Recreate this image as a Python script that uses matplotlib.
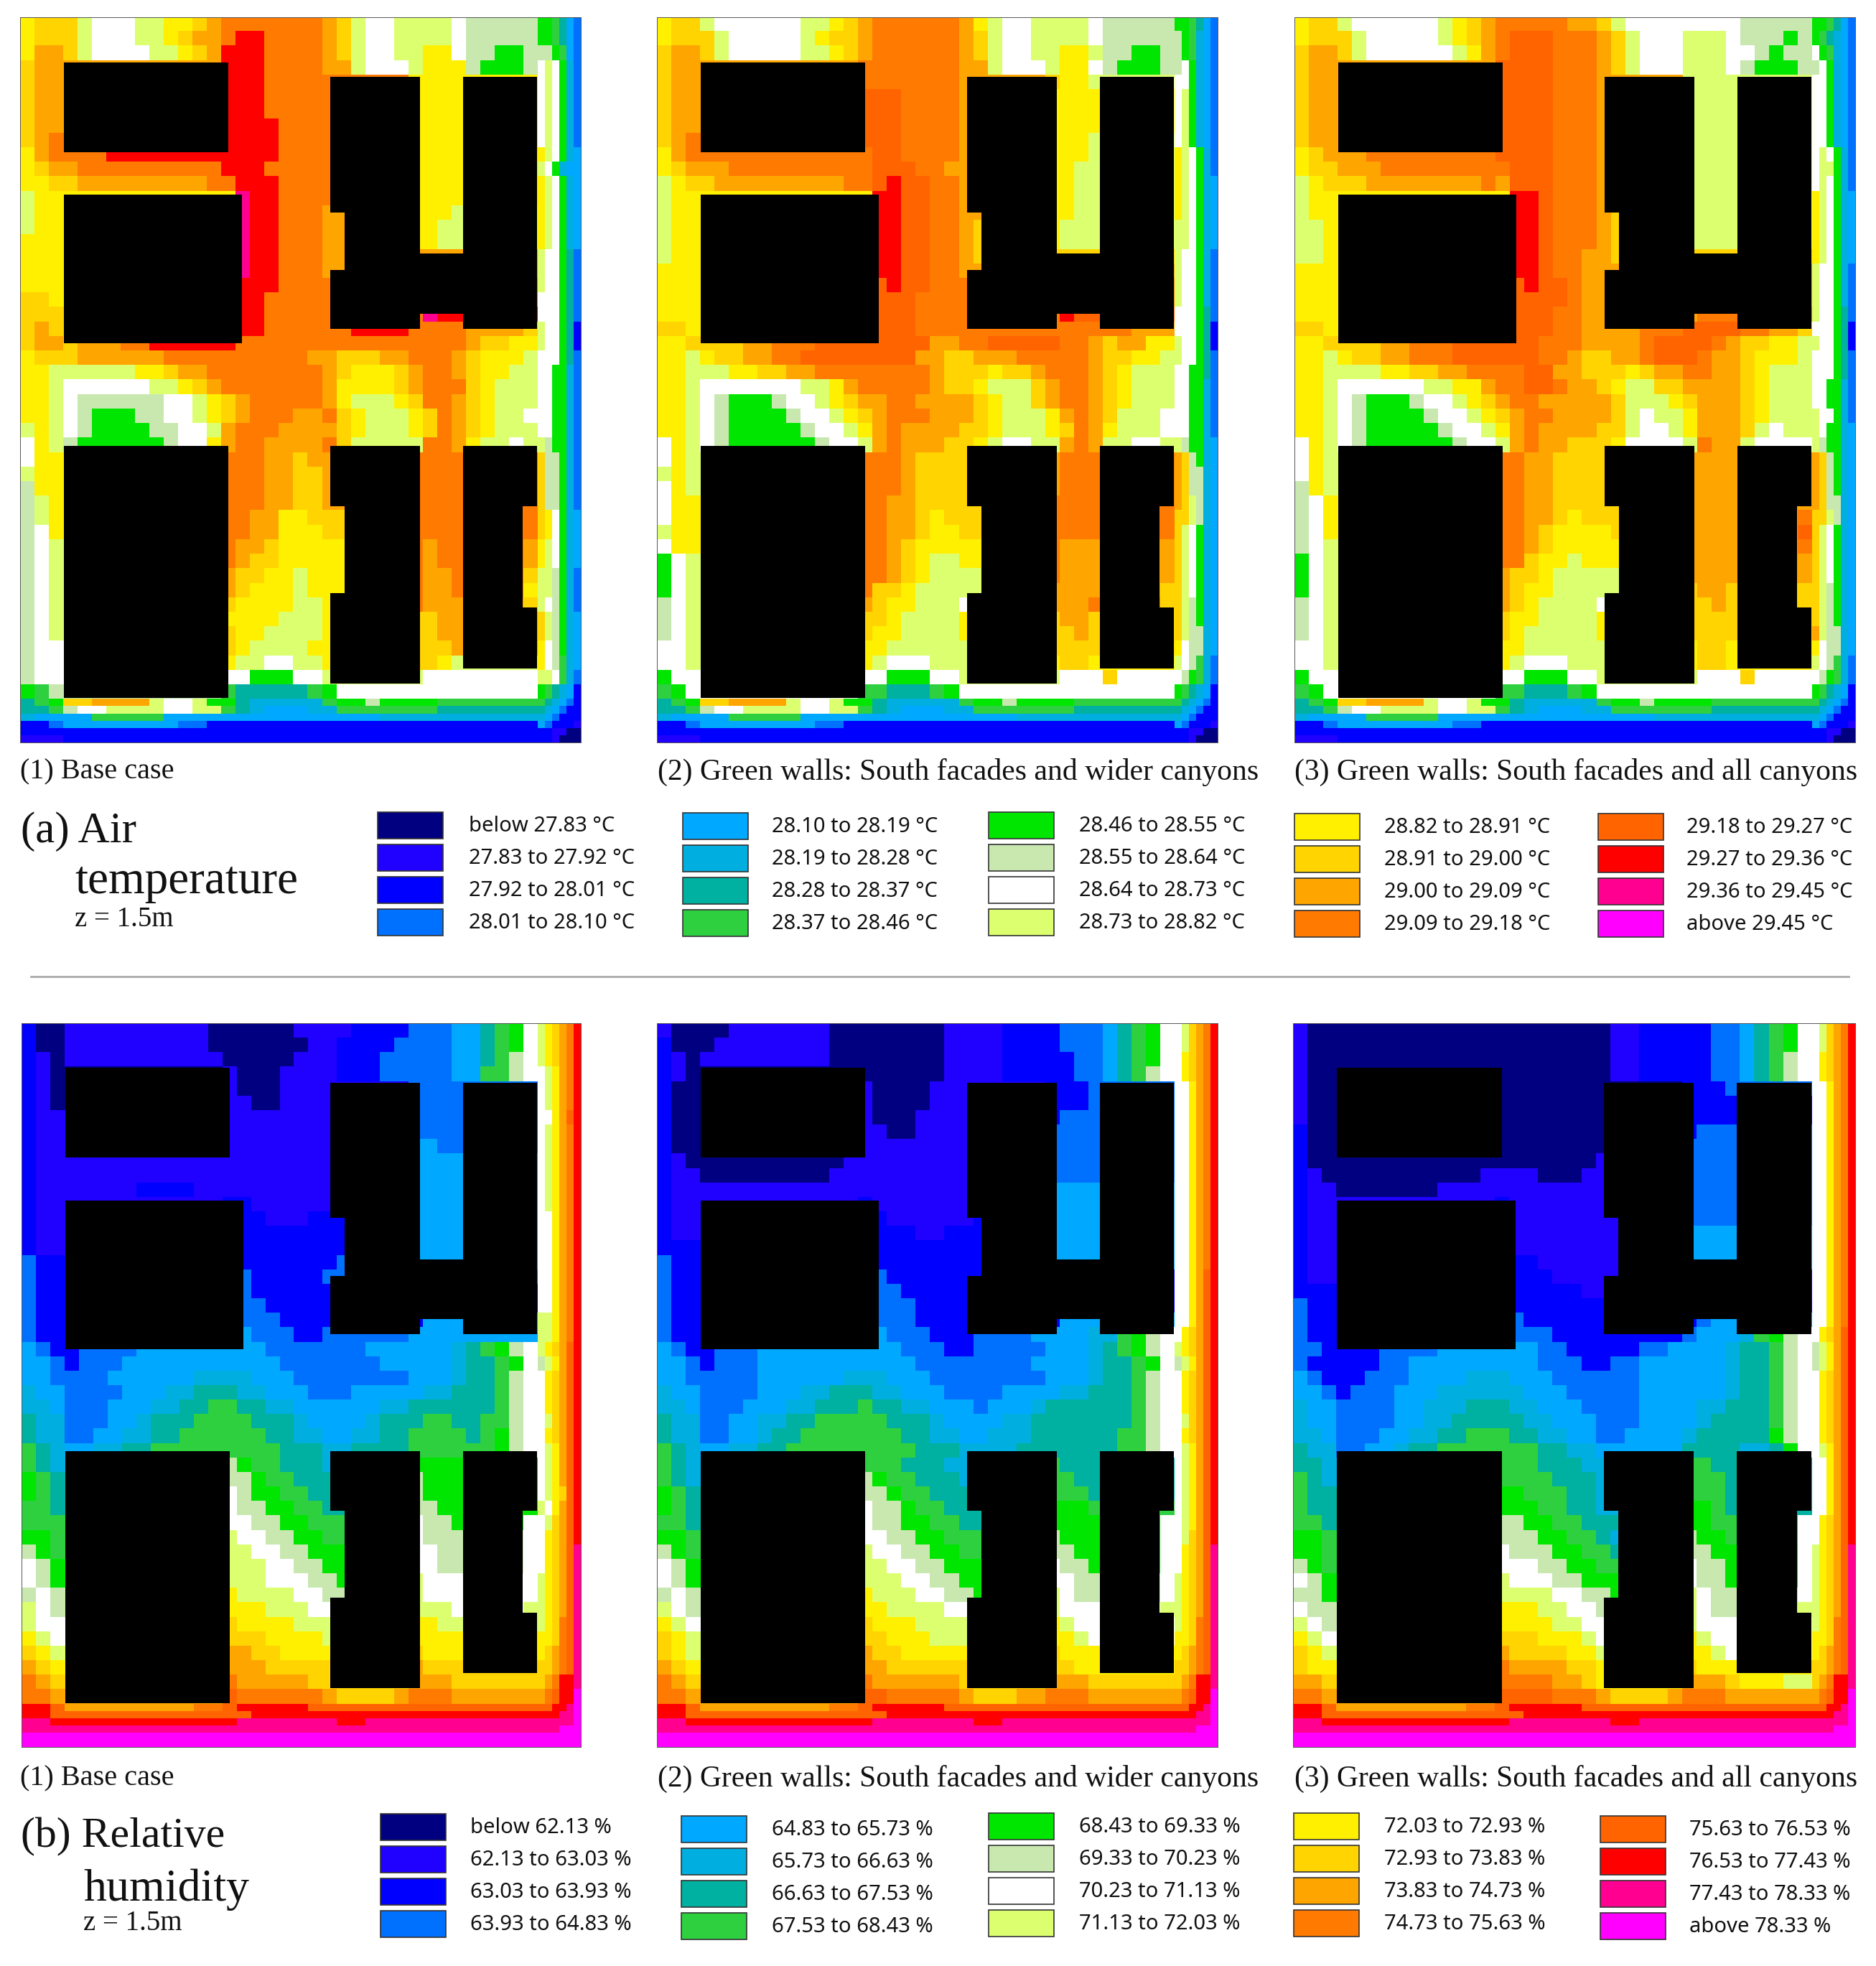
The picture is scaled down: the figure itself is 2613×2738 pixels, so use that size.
import numpy as np
import matplotlib
matplotlib.use('Agg')
import matplotlib.pyplot as plt
from matplotlib.colors import ListedColormap
from matplotlib.patches import Rectangle

# class colours, lowest to highest (a..t)
class_colors = ['#000080', '#2000ff', '#0000ff', '#0070ff', '#00a8ff', '#00aee0', '#00b0a0',
                '#2ed040', '#00e600', '#c8e8b0', '#ffffff', '#dcff70', '#fff000', '#ffd400',
                '#ffa500', '#ff7a00', '#ff6400', '#ff0000', '#ff0090', '#ff00ff']

air_labels = ['below 27.83 °C', '27.83 to 27.92 °C', '27.92 to 28.01 °C', '28.01 to 28.10 °C',
              '28.10 to 28.19 °C', '28.19 to 28.28 °C', '28.28 to 28.37 °C', '28.37 to 28.46 °C',
              '28.46 to 28.55 °C', '28.55 to 28.64 °C', '28.64 to 28.73 °C', '28.73 to 28.82 °C',
              '28.82 to 28.91 °C', '28.91 to 29.00 °C', '29.00 to 29.09 °C', '29.09 to 29.18 °C',
              '29.18 to 29.27 °C', '29.27 to 29.36 °C', '29.36 to 29.45 °C', 'above 29.45 °C']
rh_labels = ['below 62.13 %', '62.13 to 63.03 %', '63.03 to 63.93 %', '63.93 to 64.83 %',
             '64.83 to 65.73 %', '65.73 to 66.63 %', '66.63 to 67.53 %', '67.53 to 68.43 %',
             '68.43 to 69.33 %', '69.33 to 70.23 %', '70.23 to 71.13 %', '71.13 to 72.03 %',
             '72.03 to 72.93 %', '72.93 to 73.83 %', '73.83 to 74.73 %', '74.73 to 75.63 %',
             '75.63 to 76.53 %', '76.53 to 77.43 %', '77.43 to 78.33 %', 'above 78.33 %']
captions = ['(1) Base case', '(2) Green walls: South facades and wider canyons',
            '(3) Green walls: South facades and all canyons']

# building footprints in model cells: x0, x1, y0, y1
buildings = [(6.1, 29.0, 6.2, 18.6), (6.1, 30.9, 24.5, 45.0), (6.1, 29.0, 59.1, 93.9),
             (43.1, 45.1, 8.2, 26.9), (43.1, 45.1, 34.9, 43.0), (45.1, 55.6, 8.2, 43.0),
             (55.6, 61.6, 32.6, 40.9), (61.6, 71.9, 8.2, 43.0),
             (43.1, 45.1, 59.1, 67.4), (43.1, 45.1, 79.4, 91.9), (45.1, 55.6, 59.1, 91.9),
             (61.6, 69.9, 59.1, 89.8), (69.9, 71.9, 59.1, 67.4), (69.9, 71.9, 81.4, 89.8)]

# each map: one letter per cell, # = under a building. last 6 cols / last 6 rows are half size
air_edge = [
    "ghi nnoooolkkli igfffffh iijii iihh hhhhh hgfedc",
    "ggh jkkllllkkll hgfeeeff hhhhh hhgg ggggg gfedcc",
    "fee eehhhhheeee eeeeeeee eeeff ffff fffff fedccc",
    "ccd eeeeeeeeddc cccccccc ccccc cccc ccccc edcccb",
    "ccc ccccccccccc cccccccc ccccc cccc ccccc ccbbaa",
    "bbb ccccccccccc cccccccc ccccc cccc ccccc ccbaaa",
]
rh_edge = [
    "rrq ooooooooopp qrrrrrqq qqqqq qqqq qqqqq qqrrst",
    "rrq qqqqqqqqqqq qqrrrrrr rrrrr rrrr rrrrr rrrsst",
    "ssr rrrrrrrrrrr rsssssss rrsss ssss sssss ssssst",
    "sss sssssssssss ssssssss sssss ssss sssss sssttt",
    "ttt ttttttttttt tttttttt ttttt tttt ttttt tttttt",
    "ttt ttttttttttt tttttttt ttttt tttt ttttt tttttt",
]

air_1 = [
    "mnn nlkkkllmmno pppppppo nlkkl lllk jjjjj iihged",
    "mnn nlkkkllmnoo prrppppo nlkkl lllk jjjjj iihged",
    "moo nlkkkkllmno rrrppppo nlkkl lmmk jjiij jjihed",
    "noo ########### rrrppppo olkkk lmmm jiiij klkifd",
    "noo ########### rrrppppp ##### mmmm ##### klkifd",
    "noo ########### rrrppppp ##### mmmm ##### klkifd",
    "noo ########### rrrppppp ##### mmmm ##### klkifd",
    "noo ########### rrrrpppp ##### mmmm ##### klkifd",
    "nop ########### rrrrpppp ##### mmmm ##### klkifd",
    "mop ppprrrrrrrr rrrrpppp ##### mmmm ##### mlkife",
    "mno oppppppppp p"[:14] + " prrrpppp ##### mmmm ##### mlkife",
    "mmn nooooooooop prrrpppp ##### mmmm ##### mlkife",
    "lmm ########### #srrpppp ##### mmmm ##### mlkife",
    "lmm ########### #srrpppo o#### mmml ##### mlkife",
    "lmm ########### #srrpppo o#### mmll ##### mlkife",
    "mmm ########### #srrpppo o#### mmll ##### mlkife",
    "mmm ########### #srrpppo o#### #### ##### lkkigd",
    "mmm ########### #srrpppo ##### #### ##### lkkigd",
    "mmm ########### #rrrpppp ##### #### ##### lkkigd",
    "nnm ########### #rrppppp ##### #### ##### kkkigd",
    "nnn ########### #rrppppp ##### #srr ##### kkkigd",
    "non ########### #rrppppp prrrr pppp oooon lkkigc",
    "noo nooopprrrrr rppppppp ppppp pppp onnmm lkkigc",
    "mnn noooooopppp ppppppoo nnnoo pppo nmmml kkkigd",
    "mml lllllmmnoop pppppppo nmmmn oppo nmmll kkiifd",
    "mml kkkkkkllmno pppppppo mmmmn oppp nmlll kkiifd",
    "mml kjjjjjjkklm nopppppo mlllm nppo nmlll kkiifd",
    "mml kjiiijjkklm nopppoop nmlll mnpo nmllk kkiifd",
    "lml kjiiiijjkkl opppoooo nmlll mnpo nmlll kkiifd",
    "kml jiiiiiijkkm oppoooop nllll lppo mllkl ljiifd",
    "kmm ########### pppoonoo ##### pppp ##### njjifd",
    "lmm ########### pppoonno ##### pppp ##### njjifd",
    "jmm ########### pppoonno ##### pppp ##### njjifd",
    "jlm ########### pppoonno ##### pppp ##### njjifd",
    "jlm ########### ppoommnn n#### pppp ####p nmkife",
    "jkm ########### ppoommmn n#### pppp ####p nmkife",
    "jkl ########### poonmmmm m#### popp ####o mlkife",
    "jkl ########### ponnmmmm m#### popp ####o mlkife",
    "jkl ########### onnmmlmm m#### poop ####n lljifd",
    "jkl ########### onmmmlmm m#### poop ####m lljifd",
    "jkl ########### nmmmmllm ##### pooo ####n lkjifd",
    "jkl ########### mmmmlllm ##### nnoo ##### nljife",
    "jkl ########### nmmllllm ##### nnoo ##### nljife",
    "jkk ########### nmllllmm ##### nnno ##### mkjife",
    "jkk ########### mllkkllm ##### nnml ##### mkjhfe",
    "jkk ########### kkiiikkl ##### lkkk kkkkk llkhfd",
    "ihj ########### hggggghi kkkkk kkkk kkkkk ihgfec",
] + air_edge

air_2 = [
    "mnn lkkkkkkllmn oppppppo mlkkl lllk jjjjj iihged",
    "mnn nlkkkkklmnn oppppppo nlkkl lllk jjjjj jihfed",
    "noo nlkkkkkllmn oppppppo nlkkl lmml jjiij jihfed",
    "noo ########### pppppppo olkkk lmmk jiiij jkifed",
    "noo ########### pppppppo ##### nmml ##### kkifed",
    "noo ########### qqqppppo ##### mmmm ##### klifed",
    "noo ########### qqqppppo ##### mmmm ##### klifed",
    "noo ########### qqqppppo ##### mmmm ##### klifed",
    "nop ########### qqqppppo ##### mmml ##### klifed",
    "mop ppppppppppp pqqppppo ##### mmml ##### mlkifd",
    "mno ooppppppppp pqqqppoo ##### mmll ##### mlkifd",
    "lmn nooooooooop pqrqqppo ##### mmll ##### mlkife",
    "lmm ########### #rrqqppo ##### mmll ##### mlkife",
    "lmm ########### #rrqqppo o#### mmll ##### mlkife",
    "lmm ########### #rrqqppo n#### mlll ##### llkife",
    "lmm ########### #rrqqppo n#### mlll ##### llkife",
    "lmm ########### #rrqqppo n#### #### ##### lkkifd",
    "mmm ########### #rrqqppo ##### #### ##### lkkifd",
    "mmm ########### #qrqqppp ##### #### ##### lkkifd",
    "mmm ########### #qqqpppp ##### #### ##### lkkifd",
    "mmm ########### #qqqpppp ##### #rqq ##### kkkigd",
    "nnm ########### #qqqpppp ppppp pppp ppooo kkkigc",
    "mmn nnnoopppqqq qqqqqoop pqqqq qppo noomm lkkigc",
    "mml mnnooppqqqq qqqqoonn ooopp pppo nnmml lkkigd",
    "mml llmmnnooppp ppppponn nmnno pppo nmlll kkiigd",
    "mml kkkkkkkllmo ppppponn mllln oppo nmlll kkiifd",
    "mml kjiiijkklmn ooppoooo nmlln oppo nmlll kkiifd",
    "mml kjiiiijkklm nopppooo nmlll mopo nlllk kkiifd",
    "mml kjiiiiijkkl mopoooon nmlll mnpo mlllk kkiifd",
    "kml kjiiiiiijkk lopooonn mlkkl lopo llkkl ljiife",
    "kml ########### ppponnnn ##### oppp ##### onjife",
    "lml ########### ppponnnn ##### oppp ##### onjjfe",
    "kml ########### ppponnnn ##### oppp ##### onjjfe",
    "kmm ########### ppoonnnn ##### pppp ##### onljfe",
    "kmm ########### ppoonmnn n#### pppp ####p nnljfe",
    "lmm ########### ppoonmmn n#### pppp ####p nlkife",
    "kmm ########### pponmmmm m#### pooo ####o nlkife",
    "ikl ########### pponmllm m#### pooo ####o nlkife",
    "ikl ########### pponmlll l#### pooo ####o nlkife",
    "ikl ########### pnnmllll l#### oooo ####n nlkife",
    "jkl ########### onmmlllk ##### ooop ####n nljife",
    "jkl ########### nnmllllm ##### noon ##### nljife",
    "jkl ########### nmmllllm ##### nnon ##### nljjfe",
    "kkl ########### mmllllll ##### nnnn ##### mkjjfe",
    "kkl ########### mlkkklll ##### mnnm ##### lkjhfd",
    "ikk ########### kkiiikkl ##### lkkk nkkkk kjihfd",
    "hik ########### hhggghik kkkkk kkkk kkkkk ihgfec",
] + air_edge

air_3 = [
    "mnn lkkkkkklmno pppppoon lkkkk kkkk jjjjj iihged",
    "mnn nlkkkkklmno pqqqpppo nlkkk lllk jjjij ihgfed",
    "noo nlkkkkkklmo pqqqpppo nlkkk lllk kjijj kihfed",
    "noo ########### qqqqpppo nlkkk lllk jiiij jkifed",
    "noo ########### qqqqpppo ##### llll ##### kkifed",
    "noo ########### qqqqpppo ##### llll ##### kkifed",
    "noo ########### qqqqpppo ##### llll ##### kkifed",
    "noo ########### qqqqpppo ##### llll ##### kkifed",
    "noo ########### qqqqpppo ##### llll ##### kkifed",
    "mno ooppppppppp qqqqpppo ##### llll ##### klkifd",
    "mnn ooopppppppp pqqqpppo ##### llll ##### kllifd",
    "lmn nnoooooooop oqqqpppo ##### llll ##### klkifd",
    "lmm ########### #rrqpppo ##### llll ##### mlkife",
    "lmm ########### #rrqpppo n#### llll ##### mlkife",
    "llm ########### #rrqpppo n#### llll ##### mlkife",
    "llm ########### #rrqpppo n#### llll ##### mlkife",
    "llm ########### #rrqppoo n#### #### ##### mlkife",
    "mmm ########### #rrqppoo ##### #### ##### lkkifd",
    "mmm ########### #qrqqpoo ##### #### ##### lkkifd",
    "mmm ########### #qqqqpoo ##### #### ##### lkkifd",
    "mmm ########### #qqqppoo ##### #ppp ##### lkkigd",
    "nnm ########### #qqqppoo ooppp qqqq ppoon kkkigc",
    "mmn nnnoopppqqq qqqpppoo oopqq qqpo nnmml lkkigc",
    "mml mnnoopppqqq qqqpponn oopqq qpoo nmmml kkkigd",
    "mml lllmmnnoopp ppqqoonn nmnoo ppoo nmlll kkkigd",
    "mml kkkkkkllmmo ppqqpoon mllnn oooo nmlll kkiifd",
    "mml kjiiijkklmn oppooooo nlllm nooo nmlll kkiifd",
    "mml kjiiiijkklm noppoooo nlkll mooo nmlll lkkifd",
    "mml kjiiiiijkkl mopoooon nlkkl mooo nlkll lkiife",
    "kml kjiiiiiijkk lopoonnn mkkkk lpoo lkkkk ljiife",
    "kml ########### ppoonnnn ##### oooo ##### onjife",
    "kml ########### ppoonnnn ##### oooo ##### onjife",
    "jml ########### ppoonnnn ##### oooo ##### onjife",
    "jkm ########### ppoonnnn ##### oooo ##### onjjfe",
    "jkm ########### ppoonmnn n#### oooo ####p nnljfe",
    "jkm ########### pponmmmm n#### oooo ####q nlkife",
    "jkl ########### pponmmmm m#### oooo ####p nlkife",
    "ikl ########### ppnmmlmm m#### oooo ####o nlkife",
    "ikl ########### onnmllll l#### oooo ####o nlkife",
    "ikl ########### onmmllll l#### noon ####n nljife",
    "jkl ########### onmllllk ##### nnon ####n nljife",
    "jkl ########### nmmllllm ##### nnnn ##### nljife",
    "jkl ########### nmlllllm ##### nnnn ##### oljjfe",
    "kkl ########### mmllllll ##### mnnm ##### mkjjfe",
    "kkl ########### mlkkklll ##### mnnm ##### lkjhfd",
    "ikk ########### kkiiikkl ##### lkkk nkkkk kjihfd",
    "hik ########### hhggghik kkkkk kkkk kkkkk ihgfec",
] + air_edge

rh_1 = [
    "caa bbbbbbbbbba aaaaabbb bcccc ddde eghik lmnopr",
    "caa bbbbbbbbbba aaaaaabb ccccd ddde eghik lmnopr",
    "cba bbbbbbbbbbb aaaaabbb cccdd ddde eghjk lmnopr",
    "cba ########### baaabbbb cccdd ddde ehhjk klmopr",
    "cba ########### baaabbbb ##### dddd ##### klmopr",
    "cba ########### bbaabbbb ##### dddd ##### klmopr",
    "cbb ########### bbbbbbbb ##### dddd ##### kkmoqr",
    "cbb ########### bbbbbbbb ##### dddd ##### klmopr",
    "cbb ########### bbbbbbbb ##### eedd ##### klmopr",
    "cbb bbbbbbbbbbb bbbbbbbb ##### eeee ##### klmopr",
    "cbb bbbbbbbbbbb bbbbbbbb ##### eeee ##### klmopr",
    "cbb bbbbbccccbb bbbbbbbb ##### eeee ##### klmopr",
    "cbb ########### ccbbbbbb ##### eeee ##### klmopr",
    "cbb ########### #ccbbbcc c#### eeee ##### kkmopr",
    "cbb ########### #ccccccc c#### eeee ##### kkmopr",
    "cbb ########### #ccccccc c#### eeee ##### kkmopr",
    "dcc ########### #ccccccc d#### eeee ##### kkmopr",
    "dcc ########### #dcccccd d#### #### ##### kkmopr",
    "dcc ########### #dcccccc ##### #### ##### kkmopr",
    "dcc ########### #ddccccc ##### #### ##### kkmopr",
    "dcc ########### #dddcccc ##### #eee ##### llmopr",
    "dcc ########### #edddccd ##### eeee ##### llmopr",
    "edc cddddeeeeee eeeddddd ddeee eeef ghijk lmnoqr",
    "eed cdddeeeeeee eeeedddd dddee eeef gghik jlmoqr",
    "eed dddeeeeeeff ffeeeddd ddddd eeef gghjk kmnoqr",
    "fee ddddeeeffgg gffeeedd deeee effg gghjk kmnoqr",
    "ffe dddeeeffggh hggffeee eeeff gggg gghjk kmnoqr",
    "gff dddeefggghh hhgggfee eefgg ghhg ghhjk klnoqr",
    "gff ddeeffgghhh hhhggffe effgg hhhh ghijk kmnoqr",
    "hgf eeffgghhhhh hhhhgggf fgggg hhhh hhijk klmoqr",
    "hgf ########### jihhgggf ##### iiii ##### klmoqr",
    "ihg ########### jjihhggg ##### jiii ##### klmoqr",
    "ihg ########### kjiihhgg ##### jiii ##### klmnqr",
    "hhg ########### kjjiihhg ##### jjii ##### lkmoqr",
    "hhh ########### kkjjiihh h#### kjji ####k klnoqr",
    "iih ########### lkkjjiih h#### kjjj ####k kmnoqr",
    "jih ########### llkkjjii i#### kkjj ####k kmnoqs",
    "kji ########### lllkkjji i#### kkjj ####k kmnoqs",
    "kji ########### lllkkkjj i#### lkkk ####k lmnoqs",
    "jkj ########### mllllkkj j#### lkkk ####k lmnoqs",
    "lkj ########### mmmlllkk ##### lllk ####l lmnoqs",
    "lkk ########### nmmmmlll ##### mmll ##### lmnpqs",
    "mlk ########### nnnmmmml ##### mmmm ##### mmnpqs",
    "nml ########### oonnmmmm ##### nmmm ##### mnopqs",
    "onm ########### ooonnnnn ##### onnn ##### nnopqs",
    "pon ########### pooooonn ##### ooon nnnnn noprrs",
    "ppo ########### qppppppo nnnno pppo ooooo opqrrt",
] + rh_edge

rh_2 = [
    "baa aabbbbbbbaa aaaaaabb bbccc cddd eghik klnopr",
    "caa abbbbbbbbaa aaaaaabb bbccc cddd eghik klnopr",
    "cba bbbbbbbbbaa aaaaaabb bbccc ccdd eghik kmnopr",
    "cba ########### aaaaaabb bbccc ccdd eghjk kmnopr",
    "caa ########### baaaabbb ##### cccd ##### kkmopr",
    "caa ########### baaaabbb ##### cccd ##### kkmopr",
    "caa ########### baaabbbb ##### cddd ##### kkmopr",
    "caa ########### bbaabbbb ##### dddd ##### kkmopr",
    "caa ########### bbbbbbbb ##### dddd ##### kkmopr",
    "cba aaaaaaaaaab bbbbbbbb ##### dddd ##### kkmopr",
    "cbb aaaaaaaaabb bbbbbbbb ##### dddd ##### kkmopr",
    "cbb bbbbbbbbbbb bbbbbbbb ##### eeee ##### kkmopr",
    "cbb ########### cbbbbbbb ##### eeee ##### kkmopr",
    "cbb ########### #cbbbbbb c#### eeee ##### kkmopr",
    "cbb ########### #cccbbcc c#### eeee ##### kkmopr",
    "ccc ########### #ccccccc c#### eeee ##### kkmopr",
    "dcc ########### #ccccccc c#### eeee ##### kkmopr",
    "dcc ########### #dcccccc c#### #### ##### kkmoqr",
    "dcc ########### #ddccccc ##### #### ##### kkmoqr",
    "dcc ########### #dddcccc ##### #### ##### kkmoqr",
    "dcc ########### #dddcccc ##### #eee ##### kkmoqr",
    "dcc ########### #edddccc dddde eeef fhijk kmnoqr",
    "edc cdddeeeeeee eeedddcc ddddd eeef ghijk lmnoqr",
    "eed cdddeeeeeee eeeedddd dddde eeef gghik jlmoqr",
    "eed ddddeeeeeef ffeeeddd ddddd eeef gghjk kmnoqr",
    "fee ddddeeeffgg gffeeedd ddeee effg gghjk kmnoqr",
    "ffe dddeeeffggg hggffeee deeef gggg gghjk kmnoqr",
    "gff ddeeffgghhh hhgggfee eeffg gggg gghjk klnoqr",
    "gff ddeefgghhhh hhhggffe efffg gggg ghhjk kmnoqr",
    "hgf eeffgghhhhh hhhhgggf fffgg gggg ghhjk klmoqr",
    "hgf ########### hhhgggff ##### hggg ##### klmoqr",
    "hgf ########### jihhgggf ##### hhgg ##### klmoqr",
    "ihg ########### jjihhggg ##### hhhg ##### klmoqr",
    "ihg ########### kjjihhgg ##### iiih ##### klmoqr",
    "hhg ########### kjjiihhg g#### iiii ####k klmoqr",
    "iih ########### kkjjiihh h#### jiii ####k klnoqr",
    "jih ########### lkkjjiih h#### jjii ####k kmnoqs",
    "kji ########### llkkjjii i#### kjji ####k kmnoqs",
    "kji ########### lllkkjji i#### kkjj ####k lmnoqs",
    "jkj ########### mlllkkjj i#### lkjj ####k lmnoqs",
    "lkj ########### mmllllkk ##### lkkk ####l lmnoqs",
    "mlk ########### nmmmllll ##### mlkk ##### lmnpqs",
    "nml ########### nnmmmlll ##### mmlk ##### mmnpqs",
    "nml ########### onnmmmmm ##### nmmm ##### mnopqs",
    "onm ########### oonnnnnn ##### nnmm ##### nnopqs",
    "pon ########### poooooon ##### ooon nnnnn noprrs",
    "ppo ########### qqpppppo nnnoo pppo ooooo opqrrt",
] + rh_edge

rh_3 = [
    "baa aaaaaaaaaaa aaaaaaaa bbccc ccdd eghik klnopr",
    "baa aaaaaaaaaaa aaaaaaaa bbccc ccdd eghik klnopr",
    "baa aaaaaaaaaaa aaaaaaaa bbccc ccdd eghjk kmnopr",
    "baa ########### aaaaaaaa bbccc ccdd eghjk kmnopr",
    "baa ########### aaaaaaaa ##### cccd ##### kkmopr",
    "baa ########### aaaaaaaa ##### cccc ##### kkmopr",
    "baa ########### aaaaaaaa ##### cccc ##### kkmopr",
    "caa ########### aaaaaaaa ##### cddd ##### kkmopr",
    "caa ########### aaaaaaaa ##### dddd ##### kkmopr",
    "caa aaaaaaaaaaa aaaaaaab ##### dddd ##### kkmopr",
    "cba aaaaaaaaaab bbbaaabb ##### dddd ##### kkmopr",
    "cbb aaaaaaabbbb bbbbbbbb ##### dddd ##### kkmopr",
    "cbb ########### cbbbbbbb ##### dddd ##### kkmopr",
    "cbb ########### #bbbbbbb b#### dddd ##### kkmopr",
    "cbb ########### #bbbbbbb b#### eeee ##### kkmopr",
    "cbb ########### #bbbbbbb b#### eeee ##### kkmopr",
    "cbb ########### #ccbbbbb b#### eeee ##### kkmopr",
    "cbb ########### #cccbbbb b#### #### ##### kkmopr",
    "ccc ########### #cccccbb ##### #### ##### kkmopr",
    "dcc ########### #ccccccc ##### #### ##### kkmopr",
    "dcc ########### #dcccccc ##### #dee ##### kkmopr",
    "dcc ########### #dddcccc ccccc deee fhijk kmnoqr",
    "ddc cccddddeeee eeeddccc ccdde eeef gghjk jlmoqr",
    "dcc cccddeeeeee eeedddcc ddeee eeef gghjk jlmoqr",
    "edc ccdddeeeeff feeedddd ddeee eeef gghjk kmnoqr",
    "eed cdddeeeffff ffeeeddd ddeee eeef gghjk kmnoqr",
    "fee ddddeefffgg gffeeedd ddeee effg gghjk kmnoqr",
    "fee ddddeeffggg ggffeeed ddeee efgg gghjk kmnoqr",
    "ffe dddeeffgghh hggffeed deeee fggg ggijk kmnoqr",
    "gff ddeefgghhhh hhhggffe eeeee gggg ffgik klmoqr",
    "ggf ########### hhhgggff ##### hhgg ##### kkmoqr",
    "hgf ########### hhhhgggf ##### hhhg ##### kkmoqr",
    "hgg ########### iihhhggf ##### hhhg ##### kkmoqr",
    "hgg ########### iiihhggf ##### iihg ##### kkmoqr",
    "hhg ########### jjiihhgg g#### iihh ####k kmnoqr",
    "iih ########### jjjiihhg f#### jiih ####k kmnoqr",
    "iih ########### kjjjiihh g#### jjii ####k lmnoqs",
    "jih ########### kkkjjiih h#### kjji ####k lmnoqs",
    "kji ########### lkkkjjii i#### kjji ####k lmnoqs",
    "jji ########### llllkkjj i#### lkjj ####k lmnoqs",
    "kjj ########### mmmllkkj ##### lkjj ####l lmnoqs",
    "lkj ########### mmmmllkk ##### lkkk ##### lmnpqs",
    "mlk ########### nnnmmmlk ##### mlkk ##### mmnpqs",
    "nml ########### onnnnmml ##### mmlk ##### mnopqs",
    "nmm ########### poooonnm ##### nmmm ##### nnopqs",
    "oon ########### ppppoonm ##### ooon mmmll noprrs",
    "ppo ########### qqqqpppo nnnno pppo ooooo opqrrt",
] + rh_edge

W, H = 2613, 2738
cmap = ListedColormap(class_colors)
col_rep = [2] * 36 + [1] * 6
row_rep = [2] * 47 + [1] * 6


def to_grid(rows):
    out = []
    for r in rows:
        r = r.replace(' ', '')
        if len(r) != 42:
            print('bad row', len(r), r)
            r = r.ljust(42, r[-1])[:42]
        vals = []
        for ch in r:
            # cells under a building take the value left of them, the footprint covers them
            vals.append(vals[-1] if ch == '#' else ord(ch) - ord('a'))
        out.append(vals)
    g = np.array(out)
    return np.repeat(np.repeat(g, row_rep, axis=0), col_rep, axis=1)


def draw_map(rows, x0, y0, x1, y1):
    ax = fig.add_axes([x0 / W, 1 - y1 / H, (x1 - x0) / W, (y1 - y0) / H])
    ax.imshow(to_grid(rows), cmap=cmap, vmin=-0.5, vmax=19.5, extent=[0, 78, 100, 0],
              aspect='auto', interpolation='nearest')
    for bx0, bx1, by0, by1 in buildings:
        ax.add_patch(Rectangle((bx0, by0), bx1 - bx0, by1 - by0, fc='black', ec='none'))
    ax.set_xticks([])
    ax.set_yticks([])
    for s in ax.spines.values():
        s.set_linewidth(0.7)
        s.set_color('#555555')


def draw_legend(labels, sw_x, sw_y, text_x, sw_w=91, sw_h=37, step=45):
    for i, lab in enumerate(labels):
        col, row = i // 4, i % 4
        y = sw_y[col] + row * step
        page.add_patch(Rectangle((sw_x[col], y), sw_w, sw_h, fc=class_colors[i], ec='#333333', lw=1.2))
        page.text(text_x[col], y + sw_h / 2 + 1, lab, fontsize=21, family='Noto Sans', va='center',
                  color='#111111')


fig = plt.figure(figsize=(W / 100, H / 100), dpi=100)
page = fig.add_axes([0, 0, 1, 1])
page.set_xlim(0, W)
page.set_ylim(H, 0)
page.axis('off')

draw_map(air_1, 28, 24, 809, 1034)
draw_map(air_2, 915, 24, 1696, 1034)
draw_map(air_3, 1803, 24, 2584, 1034)
draw_map(rh_1, 30, 1425, 809, 2433)
draw_map(rh_2, 915, 1425, 1696, 2433)
draw_map(rh_3, 1801, 1425, 2584, 2433)

serif = 'Liberation Serif'
for x, cap, size in zip([28, 916, 1803], captions, [29, 30, 30]):
    page.text(x, 1075, cap, fontsize=size, family=serif, va='center', color='#111111')
    page.text(x, 2477, cap, fontsize=size, family=serif, va='center', color='#111111')

page.text(29, 1158, '(a) Air', fontsize=44, family=serif, va='center', color='#111111')
page.text(104, 1244, 'temperature', fontsize=47, family=serif, va='baseline', color='#111111')
page.text(104, 1280, 'z = 1.5m', fontsize=28, family=serif, va='center', color='#111111')
page.text(29, 2558, '(b) Relative', fontsize=43, family=serif, va='center', color='#111111')
page.text(116, 2647, 'humidity', fontsize=46, family=serif, va='baseline', color='#111111')
page.text(116, 2678, 'z = 1.5m', fontsize=28, family=serif, va='center', color='#111111')

page.plot([43, 2575], [1360, 1360], color='#aaaaaa', lw=2)

draw_legend(air_labels, [526, 951, 1377, 1803, 2226], [1131, 1132, 1131, 1133, 1133],
            [653, 1075, 1503, 1928, 2349])
draw_legend(rh_labels, [530, 949, 1377, 1802, 2229], [2526, 2529, 2525, 2525, 2529],
            [655, 1075, 1503, 1928, 2353])

fig.savefig('out.png', dpi=100)
